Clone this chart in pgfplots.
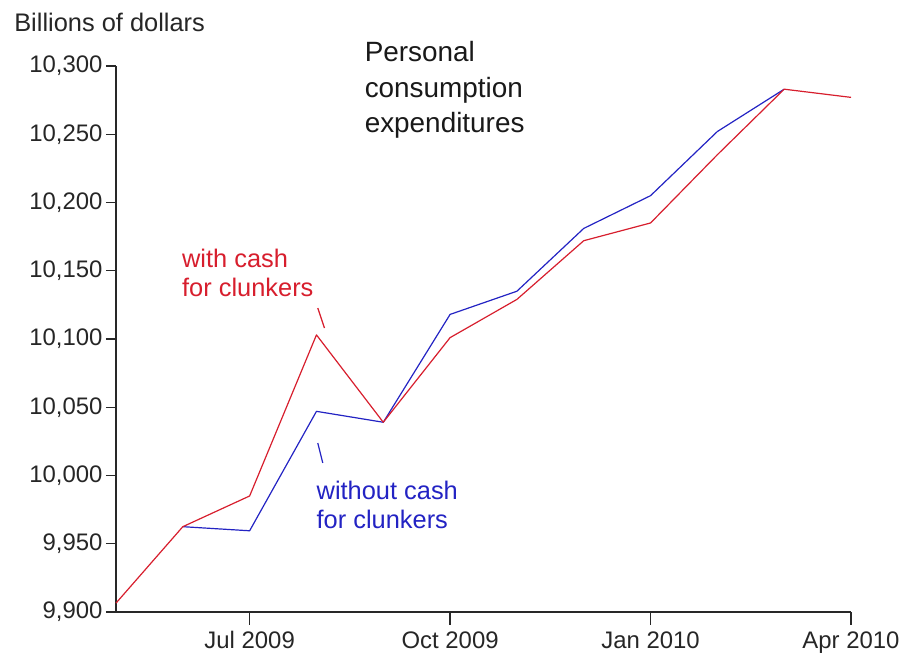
\documentclass[border=0pt]{standalone}
\usepackage{pgfplots}
\pgfplotsset{compat=1.18}
\usepackage{fontspec}
\setmainfont{Liberation Sans}
\definecolor{cfcred}{RGB}{215,30,45}
\definecolor{cfcblue}{RGB}{35,35,195}
\definecolor{axgray}{RGB}{40,40,40}
\begin{document}
\begin{tikzpicture}[x=1bp,y=1bp]
\useasboundingbox (0,0) rectangle (905,664);
\begin{axis}[
  at={(116bp,52bp)}, anchor=south west,
  width=735bp, height=546bp, scale only axis,
  xmin=0, xmax=11, ymin=9900, ymax=10300,
  axis x line*=bottom, axis y line*=left,
  xtick=\empty,
  minor xtick={0,1,...,11},
  extra x ticks={2,5,8,11},
  extra x tick labels={Jul 2009,Oct 2009,Jan 2010,Apr 2010},
  extra x tick style={major tick length=13bp, x tick label style={yshift=-3bp}},
  ytick={9900,9950,...,10300},
  tick align=outside, major tick length=10bp, minor tick length=8bp,
  tick style={axgray, line width=1.3bp},
  axis line style={axgray, line width=1.5bp},
  ticklabel style={font=\fontsize{24}{26}\selectfont, text=black!85},
  scaled y ticks=false,
  /pgf/number format/.cd, 1000 sep={,}, fixed, assume math mode=true,
  /pgfplots/.cd,
  clip=false,
]
\addplot[cfcblue, line width=1.2bp, line join=round] coordinates {
 (1,9962.5) (2,9959.5) (3,10047) (4,10039) (5,10118) (6,10135) (7,10181) (8,10205) (9,10252) (10,10283)
};
\addplot[cfcred, line width=1.2bp, line join=round] coordinates {
 (0,9906.5) (1,9962.5) (2,9985) (3,10103) (4,10039) (5,10101) (6,10129) (7,10172) (8,10185) (9,10235) (10,10283) (11,10277)
};
\node[anchor=west, font=\fontsize{25.5}{28}\selectfont, text=black!85, inner sep=0pt] at (axis cs:-1.525,10332) {Billions of dollars};
\node[anchor=west, align=left, font=\fontsize{28}{36}\selectfont, text=black!90, inner sep=0pt] at (axis cs:3.72,10282.5) {Personal\\consumption\\expenditures};
\node[anchor=west, align=left, font=\fontsize{25.5}{30}\selectfont, text=cfcred, inner sep=0pt] at (axis cs:0.987,10148.4) {with cash\\for clunkers};
\node[anchor=west, align=left, font=\fontsize{25.5}{29}\selectfont, text=cfcblue, inner sep=0pt] at (axis cs:3.0,9978.4) {without cash\\for clunkers};
\draw[cfcred, line width=1.2bp] (axis cs:3.02,10122.7) -- (axis cs:3.12,10108);
\draw[cfcblue, line width=1.2bp] (axis cs:3.02,10023.8) -- (axis cs:3.094,10009.2);
\end{axis}
\end{tikzpicture}
\end{document}
